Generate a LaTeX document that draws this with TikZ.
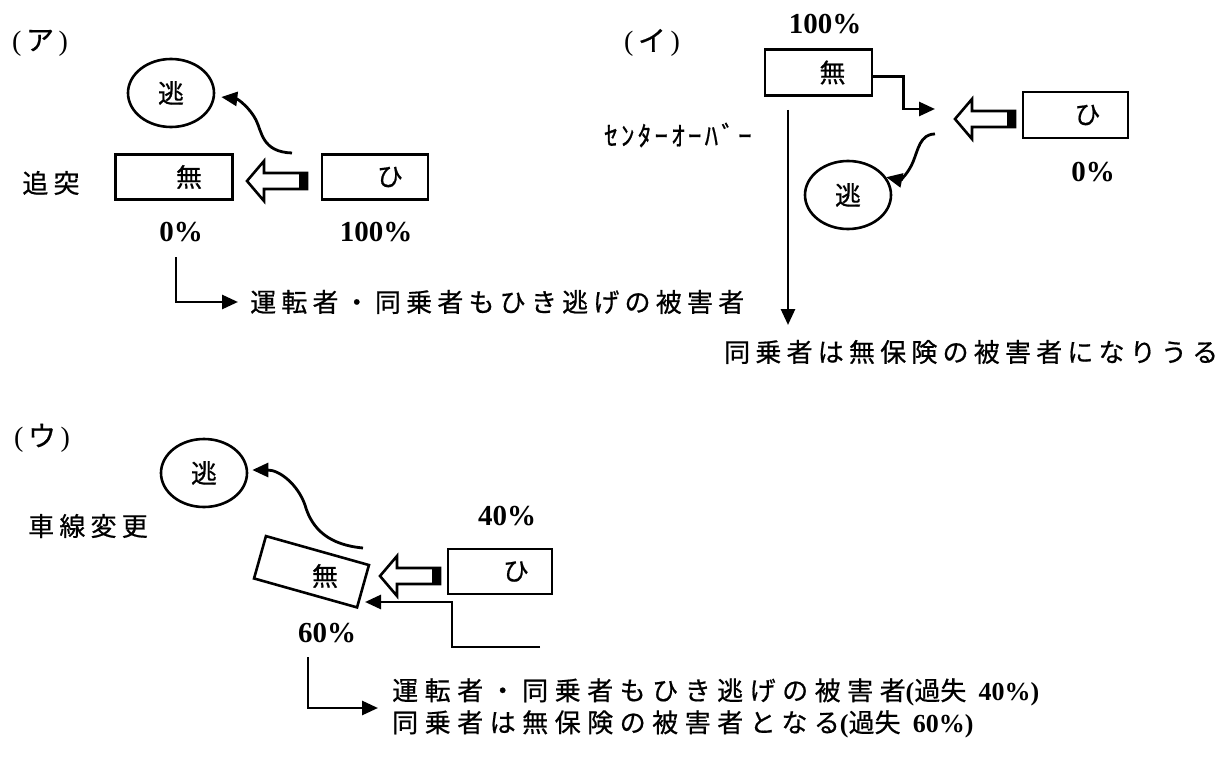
\documentclass[tikz,border=0pt]{standalone}
\usepackage{fontspec}
\setmainfont{Liberation Serif}
\newfontfamily\jp[LetterSpace=20,FakeBold=0.6]{Noto Sans CJK JP}
\newfontfamily\jpw[LetterSpace=25,FakeBold=0.6]{Noto Sans CJK JP}
\newfontfamily\jpn[FakeBold=0.6]{Noto Sans CJK JP}
\newfontfamily\jph[LetterSpace=12,FakeBold=0.6]{Noto Sans CJK JP}
\usetikzlibrary{arrows.meta,shapes.geometric}
\tikzset{
  box/.style={draw, line width=2.6pt, minimum height=45pt, inner sep=0pt, font=\fontsize{26}{30}\selectfont\jpn},
  esc/.style={ellipse, draw, line width=2.6pt, minimum width=86pt, minimum height=68pt, inner sep=0pt, font=\fontsize{26}{30}\selectfont\jpn},
  arr/.style={line width=2.8pt, -{Triangle[length=16pt,width=14pt]}},
  pct/.style={inner sep=0pt, font=\fontsize{29}{30}\selectfont\bfseries},
  jt/.style={inner sep=0pt, font=\fontsize{26}{30}\selectfont\jp},
  jtw/.style={inner sep=0pt, font=\fontsize{26}{30}\selectfont\jpw},
  lab/.style={inner sep=0pt, font=\fontsize{28}{30}\selectfont},
  hollow/.pic={
    \draw[line width=2.6pt, line join=miter] (0,0) -- (17,-20) -- (17,-8) -- (60,-8) -- (60,8) -- (17,8) -- (17,20) -- cycle;
    \fill (52,-8) rectangle (60,8);
  }
}
\newcommand{\lt}[1]{{\rmfamily\bfseries #1}}
\begin{document}
\begin{tikzpicture}[x=1pt,y=-1pt]
\useasboundingbox (0,0) rectangle (1229,765);
% (a)
\node[lab] (alab) at (40,43) {(\,{\jpn ア}\,)};
\node[esc] (e1) at (171,93) {逃};
\node[jt] (tsui) at (51,183) {追突};
\node[box, minimum width=117pt] (mu1) at (174,177) {\hspace*{30pt}無};
\node[box, minimum width=106pt] (hi1) at (375,177) {\hspace*{30pt}ひ};
\node[pct] (p1) at (181,232) {0\%};
\node[pct] (p2) at (376,232) {100\%};
\pic at (247,181) {hollow};
\coordinate (c1s) at (292,153);
\draw[arr] (c1s) .. controls (262,152) and (262,132) .. (256,120) .. controls (250,108) and (238,99) .. ([shift={(6,4)}]e1.east);
\node[jt, anchor=west] (t1) at (250,302) {運転者・同乗者もひき逃げの被害者};
\coordinate (l1a) at (176,257);
\draw[arr] (l1a) |- ([xshift=-12pt]t1.west);
% (i)
\node[lab] (ilab) at (652,43) {(\,{\jpn イ}\,)};
\node[pct] (p3) at (825,24) {100\%};
\node[box, minimum width=107pt, minimum height=46pt] (mu2) at (818.5,72.5) {\hspace*{28pt}無};
\node[box, minimum width=105pt, minimum height=46pt] (hi2) at (1075.5,115) {\hspace*{24pt}ひ};
\node[pct] (p4) at (1093,172) {0\%};
\pic at (955,119) {hollow};
\coordinate (c2a) at (935,109);
\draw[arr] ([yshift=-4pt]mu2.east) -- ++(30,0) |- (c2a);
\node[inner sep=0pt, font=\fontsize{27}{30}\selectfont\jph] (co) at (678,135) {ｾﾝﾀｰｵｰﾊﾞｰ};
\node[jt, anchor=west] (t2) at (724,352) {同乗者は無保険の被害者になりうる};
\coordinate (v2a) at (788,110);
\coordinate (v2b) at (788,325);
\draw[arr] (v2a) -- (v2b);
\node[esc] (e2) at (848,195) {逃};
\coordinate (c2s) at (935,134);
\draw[arr] (c2s) .. controls (920,134) and (918,150) .. (913,162) .. controls (908,174) and (900,180) .. (e2.25);
% (u)
\node[lab] (ulab) at (42,438) {(\,{\jpn ウ}\,)};
\node[esc] (e3) at (204,473) {逃};
\node[jt] (shasen) at (88,526) {車線変更};
\node[pct] (p5) at (507,516) {40\%};
\node[box, minimum width=104pt] (hi3) at (500,571.5) {\hspace*{32pt}ひ};
\pic at (380,576) {hollow};
\node[draw, line width=2.6pt, minimum width=107pt, minimum height=44pt, inner sep=0pt, rotate=-15.7] (mu3) at (311.5,571.75) {};
\node[inner sep=0pt, font=\fontsize{26}{30}\selectfont\jpn] (mu3t) at (325,576) {無};
\node[pct] (p6) at (327,633) {60\%};
\coordinate (c3s) at (363,548);
\draw[arr] (c3s) .. controls (330,545) and (312,530) .. (305,505) .. controls (298,485) and (280,470) .. ([shift={(4,-3)}]e3.east);
\coordinate (u1) at (540,647);
\coordinate (c3t) at (365,602);
\draw[arr] (u1) -- ++(-88,0) |- (c3t);
\node[jtw, anchor=west] (t3) at (392,692) {運転者・同乗者もひき逃げの被害者\lt{(}{\jpn 過失} \lt{40\%)}};
\node[jtw, anchor=west] (t4) at (392,724) {同乗者は無保険の被害者となる\lt{(}{\jpn 過失} \lt{60\%)}};
\coordinate (l3a) at (308,657);
\coordinate (l3b) at (378,708);
\draw[arr] (l3a) |- (l3b);
\end{tikzpicture}
\end{document}
